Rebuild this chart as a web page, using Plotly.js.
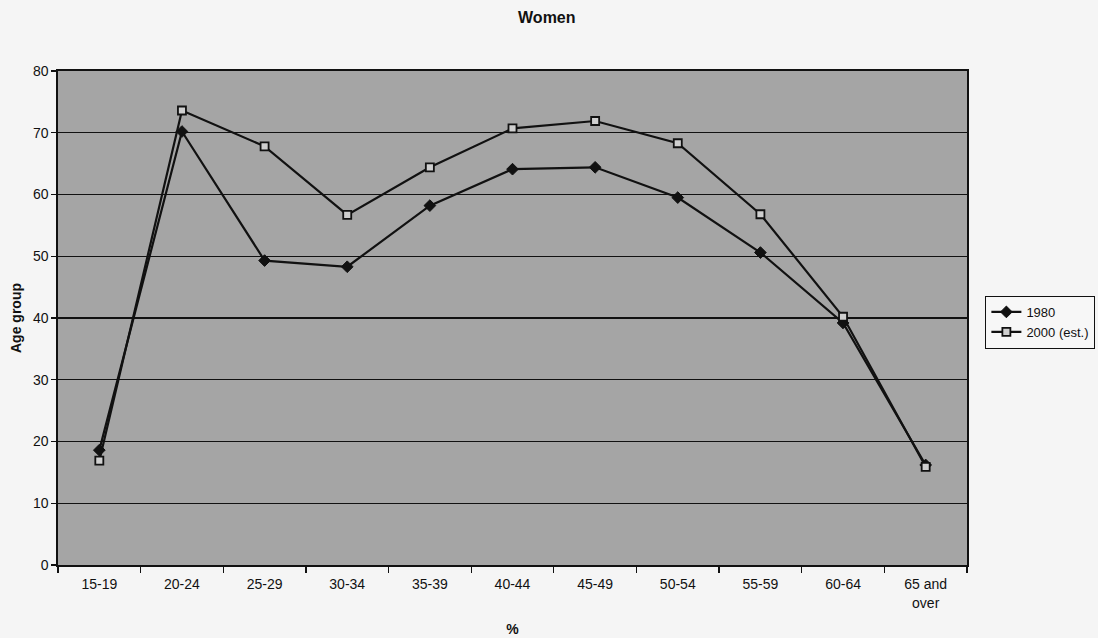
<!DOCTYPE html>
<html>
<head>
<meta charset="utf-8">
<script src="https://cdn.plot.ly/plotly-3.0.1.min.js"></script>
<style>
html,body{margin:0;padding:0;background:#f5f5f5;}
#chart{width:1098px;height:638px;}
</style>
</head>
<body>
<div id="chart"></div>
<script>
const categories = ["15-19","20-24","25-29","30-34","35-39","40-44","45-49","50-54","55-59","60-64","65 and<br>over"];
const values1980 = [18.6, 70.2, 49.3, 48.3, 58.2, 64.1, 64.4, 59.5, 50.6, 39.2, 16.2];
const values2000 = [16.9, 73.6, 67.8, 56.7, 64.4, 70.7, 71.9, 68.3, 56.8, 40.2, 15.9];
const yTicks = [0,10,20,30,40,50,60,70,80];

const fam = "Liberation Sans, Arial, sans-serif";
const ink = "#111";

const traces = [
  {
    x: categories, y: values1980, name: "1980", type: "scatter", mode: "lines+markers",
    line: {color: ink, width: 2.2},
    marker: {symbol: "diamond", size: 9, color: ink, line: {color: ink, width: 1}}
  },
  {
    x: categories, y: values2000, name: "2000 (est.)", type: "scatter", mode: "lines+markers",
    line: {color: ink, width: 2.2},
    marker: {symbol: "square", size: 8, color: "#cfcfcf", line: {color: ink, width: 1.8}}
  }
];

const layout = {
  width: 1098, height: 638,
  margin: {l: 58, r: 131, t: 71, b: 73, autoexpand: false},
  paper_bgcolor: "#f5f5f5",
  plot_bgcolor: "#a5a5a5",
  font: {family: fam, size: 14, color: ink},
  showlegend: true,
  title: {text: "<b>Women</b>", x: 0.498, xref: "container", xanchor: "center", y: 0.972, yref: "container", yanchor: "middle", font: {family: fam, size: 16, color: ink}},
  xaxis: {
    type: "category",
    range: [-0.5, 10.5],
    tickson: "boundaries",
    ticks: "outside", ticklen: 6, tickcolor: ink, tickwidth: 1.2,
    ticklabelstandoff: 6,
    showgrid: false,
    showline: true, linecolor: ink, linewidth: 1.6, mirror: true,
    tickfont: {family: fam, size: 14, color: ink},
    title: {text: "<b>%</b>", standoff: 14, font: {family: fam, size: 14, color: ink}},
    fixedrange: true
  },
  yaxis: {
    range: [0, 80],
    tickvals: yTicks,
    ticks: "outside", ticklen: 5, tickcolor: ink, tickwidth: 1.2,
    showgrid: true, gridcolor: ink, gridwidth: 1.2,
    zeroline: false,
    showline: true, linecolor: ink, linewidth: 1.6, mirror: true,
    tickfont: {family: fam, size: 14, color: ink},
    title: {text: "<b>Age group</b>", standoff: 8, font: {family: fam, size: 14, color: ink}},
    fixedrange: true
  },
  legend: {
    x: 1.02, xanchor: "left", y: 0.545, yanchor: "top",
    bgcolor: "#f7f7f7", bordercolor: ink, borderwidth: 1.2,
    font: {family: fam, size: 13, color: ink},
    tracegroupgap: 0, itemwidth: 30
  }
};

Plotly.newPlot("chart", traces, layout, {displayModeBar: false, staticPlot: true});
</script>
</body>
</html>
